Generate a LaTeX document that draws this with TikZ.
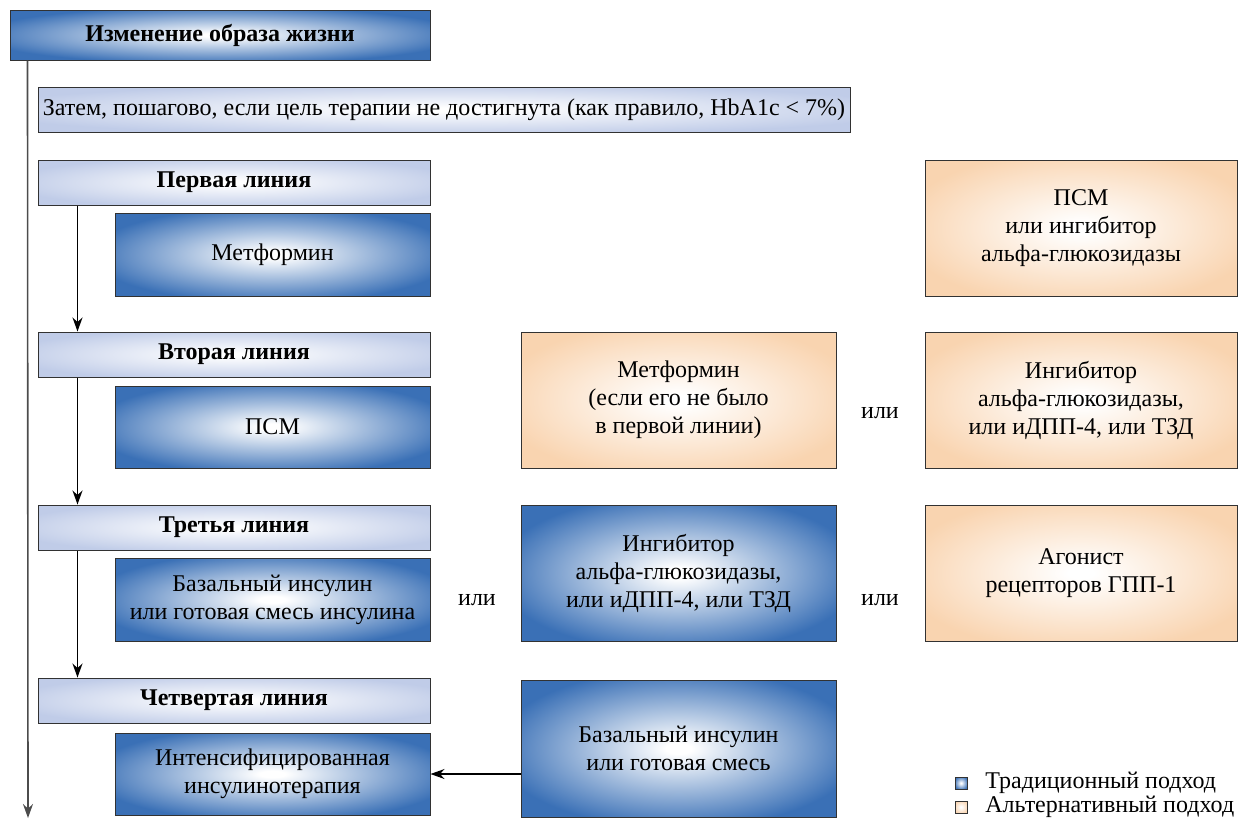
\documentclass[tikz,border=0pt]{standalone}
\usepackage{fontspec}
\setmainfont{Liberation Serif}
\usetikzlibrary{arrows.meta}
\definecolor{tradblue}{RGB}{58,112,182}
\definecolor{lineblue}{RGB}{192,204,232}
\definecolor{altorange}{RGB}{249,212,176}
\definecolor{edgegray}{RGB}{50,50,50}
\pgfdeclareradialshading{tradglow}{\pgfpoint{0bp}{0bp}}{color(0bp)=(white); color(2bp)=(white); color(29bp)=(tradblue); color(50bp)=(tradblue)}
\pgfdeclareradialshading{altglow}{\pgfpoint{0bp}{0bp}}{color(0bp)=(white); color(2bp)=(white); color(29bp)=(altorange); color(50bp)=(altorange)}
\pgfdeclareradialshading{lineglow}{\pgfpoint{0bp}{0bp}}{color(0bp)=(white); color(2bp)=(white); color(29bp)=(lineblue); color(50bp)=(lineblue)}
\begin{document}
\begin{tikzpicture}[x=0.5pt,y=-0.5pt,
    font=\fontsize{12}{14}\selectfont,
    box/.style={draw=edgegray,line width=0.5pt,rectangle,align=center,inner sep=2pt},
    tradbox/.style={box,shading=tradglow},
    altbox/.style={box,shading=altglow},
    linebox/.style={box,shading=lineglow,font=\fontsize{12}{14}\selectfont\bfseries},
    >={Stealth[length=7pt,width=5pt]}]
  \useasboundingbox (0,0) rectangle (1246,820);
  % left column
  \node[tradbox,minimum width=210pt,minimum height=25pt,font=\fontsize{12}{14}\selectfont\bfseries] (life) at (220,35) {Изменение образа жизни};
  \node[linebox,minimum width=406pt,minimum height=22.5pt,font=\fontsize{12}{14}\selectfont] (then) at (444,109.5)
    {Затем, пошагово, если цель терапии не достигнута (как правило, HbA1c < 7\%)};
  \node[linebox,minimum width=196pt,minimum height=22.5pt] (line1) at (234,182.5) {Первая линия};
  \node[tradbox,minimum width=157.5pt,minimum height=41.5pt] (met1) at (272.5,254.5) {Метформин};
  \node[linebox,minimum width=196pt,minimum height=22.5pt] (line2) at (234,354.5) {Вторая линия};
  \node[tradbox,minimum width=157.5pt,minimum height=41pt] (psm2) at (272.5,427) {ПСМ};
  \node[linebox,minimum width=196pt,minimum height=22.5pt] (line3) at (234,527.5) {Третья линия};
  \node[tradbox,minimum width=157.5pt,minimum height=41.5pt] (ins3) at (272.5,599.5) {Базальный инсулин\\или готовая смесь инсулина};
  \node[linebox,minimum width=196pt,minimum height=22.5pt] (line4) at (234,700.5) {Четвертая линия};
  \node[tradbox,minimum width=157.5pt,minimum height=41pt] (int4) at (272.5,774) {Интенсифицированная\\инсулинотерапия};
  % alternatives
  \node[altbox,minimum width=156pt,minimum height=68pt] (alt1) at (1081,228) {ПСМ\\или ингибитор\\альфа-глюкозидазы};
  \node[altbox,minimum width=157.5pt,minimum height=68pt] (alt2a) at (678.5,400) {Метформин\\(если его не было\\в первой линии)};
  \node (or2) at (880,413) {или};
  \node[altbox,minimum width=156pt,minimum height=68pt] (alt2b) at (1081,400) {Ингибитор\\альфа-глюкозидазы,\\или иДПП-4, или ТЗД};
  \node (or3a) at (477,600) {или};
  \node[tradbox,minimum width=157.5pt,minimum height=68pt] (trad3) at (678.5,573) {Ингибитор\\альфа-глюкозидазы,\\или иДПП-4, или ТЗД};
  \node (or3b) at (880,600) {или};
  \node[altbox,minimum width=156pt,minimum height=68pt] (alt3) at (1081,573) {Агонист\\рецепторов ГПП-1};
  \node[tradbox,minimum width=157.5pt,minimum height=68.5pt] (trad4) at (678.5,748.5) {Базальный инсулин\\или готовая смесь};
  % legend
  \node[tradbox,minimum size=6pt,inner sep=0pt] (keytrad) at (961,783) {};
  \node[anchor=west,inner sep=0pt] (keytradtext) at (985,783) {Традиционный подход};
  \node[altbox,minimum size=6pt,inner sep=0pt] (keyalt) at (961,807) {};
  \node[anchor=west,inner sep=0pt] (keyalttext) at (985,807) {Альтернативный подход};
  \coordinate (bottom) at (28,818);
  \begin{scope}[line width=0.6pt]
    \draw[->,draw=black!70,line width=0.8pt] ([xshift=9pt]life.south west) -- (bottom);
    \draw[->] ([xshift=20pt]line1.south west) -- ([xshift=20pt]line2.north west);
    \draw[->] ([xshift=20pt]line2.south west) -- ([xshift=20pt]line3.north west);
    \draw[->] ([xshift=20pt]line3.south west) -- ([xshift=20pt]line4.north west);
    \draw[->] (trad4.west |- int4.east) -- (int4.east);
  \end{scope}
\end{tikzpicture}
\end{document}
